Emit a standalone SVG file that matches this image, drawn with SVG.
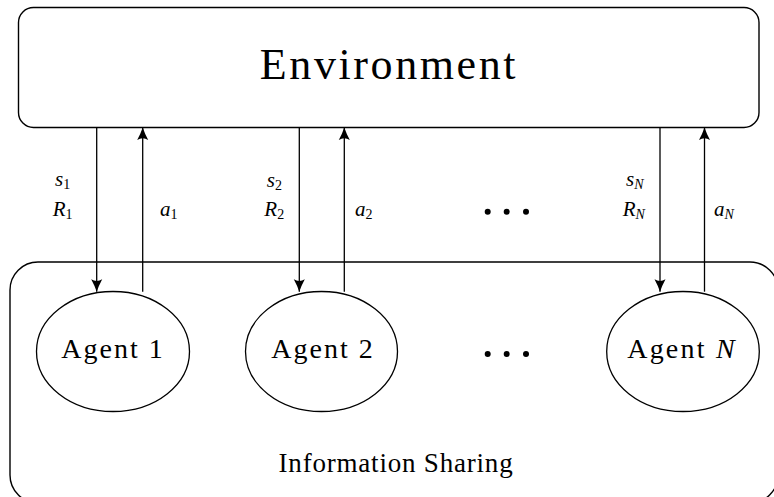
<svg xmlns="http://www.w3.org/2000/svg" width="774" height="497" viewBox="0 0 774 497">
<style>
.box{fill:#fff;stroke:#000;stroke-width:1.4}
.node{fill:#fff;stroke:#000;stroke-width:1.3}
.edge{fill:none;stroke:#000;stroke-width:1.3}
text, tspan{font-family:'Liberation Serif',serif !important}
</style>
<defs>
<marker id="arr" viewBox="-13 -6 14 12" markerWidth="14" markerHeight="12" refX="0" refY="0" orient="auto" markerUnits="userSpaceOnUse">
<path d="M0,0 Q-6,-2 -12.5,-5.5 Q-9,0 -12.5,5.5 Q-6,2 0,0Z" fill="#000"/>
</marker>
</defs>
<g id="info-sharing">
<rect class="box" x="10" y="262" width="768" height="241" rx="28"/>
<text x="396" y="471.7" style="font-family:'Liberation Serif',serif !important" font-size="27" letter-spacing="0.8" text-anchor="middle">Information Sharing</text>
</g>
<g id="environment">
<rect class="box" x="18.5" y="7.5" width="740.5" height="120" rx="15"/>
<text x="389" y="79.3" style="font-family:'Liberation Serif',serif !important" font-size="44" letter-spacing="2.6" text-anchor="middle">Environment</text>
</g>
<g id="agent1">
<ellipse class="node" cx="113" cy="351.5" rx="76.5" ry="60"/>
<text x="113" y="358.3" style="font-family:'Liberation Serif',serif !important" font-size="28" letter-spacing="2" text-anchor="middle">Agent 1</text>
</g>
<g id="agent2">
<ellipse class="node" cx="321.5" cy="351.5" rx="76" ry="60"/>
<text x="323" y="358.3" style="font-family:'Liberation Serif',serif !important" font-size="28" letter-spacing="2" text-anchor="middle">Agent 2</text>
</g>
<g id="agentN">
<ellipse class="node" cx="683" cy="351.5" rx="76.3" ry="60"/>
<text x="682" y="358.3" style="font-family:'Liberation Serif',serif !important" font-size="28" letter-spacing="2.2" text-anchor="middle">Agent <tspan font-style="italic">N</tspan></text>
</g>
<g id="dots">
<circle cx="487.7" cy="211.7" r="3"/><circle cx="506.7" cy="211.7" r="3"/><circle cx="526" cy="211.7" r="3"/>
<circle cx="487.7" cy="354" r="3"/><circle cx="506.7" cy="354" r="3"/><circle cx="526" cy="354" r="3"/>
</g>
<g id="connectors">
<line class="edge" x1="96.7" y1="127.5" x2="96.7" y2="291.7" marker-end="url(#arr)"/>
<line class="edge" x1="142.7" y1="291.7" x2="142.7" y2="127.5" marker-end="url(#arr)"/>
<line class="edge" x1="299.3" y1="127.5" x2="299.3" y2="291.7" marker-end="url(#arr)"/>
<line class="edge" x1="344.3" y1="291.7" x2="344.3" y2="127.5" marker-end="url(#arr)"/>
<line class="edge" x1="660" y1="127.5" x2="660" y2="291.7" marker-end="url(#arr)"/>
<line class="edge" x1="704.5" y1="291.7" x2="704.5" y2="127.5" marker-end="url(#arr)"/>
<g font-style="italic" font-size="21">
<text x="55" y="186" style="font-family:'Liberation Serif',serif !important">s<tspan font-style="normal" font-size="14" dy="3">1</tspan></text>
<text x="52.7" y="215.5" style="font-family:'Liberation Serif',serif !important">R<tspan font-style="normal" font-size="14" dy="3">1</tspan></text>
<text x="160" y="216" style="font-family:'Liberation Serif',serif !important">a<tspan font-style="normal" font-size="14" dy="3">1</tspan></text>
<text x="266.7" y="186.5" style="font-family:'Liberation Serif',serif !important">s<tspan font-style="normal" font-size="14" dy="3">2</tspan></text>
<text x="264.3" y="216" style="font-family:'Liberation Serif',serif !important">R<tspan font-style="normal" font-size="14" dy="3">2</tspan></text>
<text x="355" y="216" style="font-family:'Liberation Serif',serif !important">a<tspan font-style="normal" font-size="14" dy="3">2</tspan></text>
<text x="626" y="186" style="font-family:'Liberation Serif',serif !important">s<tspan font-size="14" dy="3">N</tspan></text>
<text x="622.7" y="216" style="font-family:'Liberation Serif',serif !important">R<tspan font-size="14" dy="3">N</tspan></text>
<text x="714" y="216" style="font-family:'Liberation Serif',serif !important">a<tspan font-size="14" dy="3">N</tspan></text>
</g>
</g>
</svg>
